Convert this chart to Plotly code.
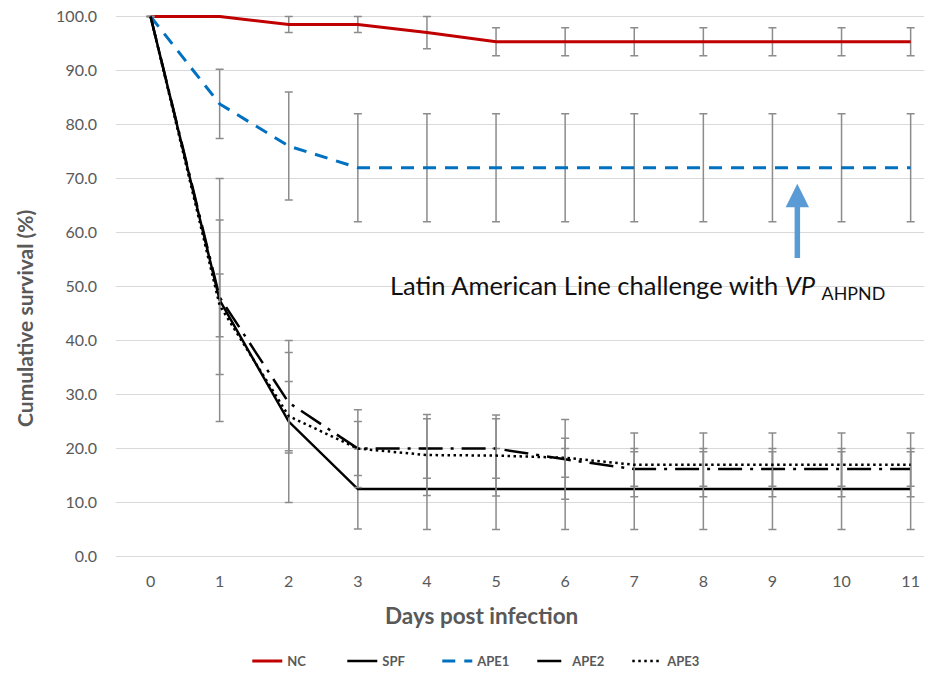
import plotly.graph_objects as go

days = list(range(12))

nc = [100, 100, 98.5, 98.5, 97.0, 95.3, 95.3, 95.3, 95.3, 95.3, 95.3, 95.3]
nc_err = [0, 0, 1.5, 1.5, 3.0, 2.6, 2.6, 2.6, 2.6, 2.6, 2.6, 2.6]

spf = [100, 47.5, 25.0, 12.5, 12.5, 12.5, 12.5, 12.5, 12.5, 12.5, 12.5, 12.5]
spf_err = [0, 22.5, 15.0, 7.4, 7.5, 7.5, 7.5, 7.5, 7.5, 7.5, 7.5, 7.5]

ape1 = [100, 83.8, 76.0, 72.0, 72.0, 72.0, 72.0, 72.0, 72.0, 72.0, 72.0, 72.0]
ape1_err = [0, 6.4, 10.0, 10.0, 10.0, 10.0, 10.0, 10.0, 10.0, 10.0, 10.0, 10.0]

ape2 = [100, 48.0, 28.5, 20.0, 20.0, 20.0, 18.0, 16.2, 16.2, 16.2, 16.2, 16.2]
ape2_err = [0, 14.3, 9.3, 7.2, 5.5, 5.5, 7.4, 3.2, 3.2, 3.2, 3.2, 3.2]

ape3 = [100, 46.5, 26.0, 20.0, 18.8, 18.7, 18.3, 17.0, 17.0, 17.0, 17.0, 17.0]
ape3_err = [0, 5.8, 6.4, 5.0, 7.5, 7.5, 3.6, 5.9, 5.9, 5.9, 5.9, 5.9]

y_ticks = [0, 10, 20, 30, 40, 50, 60, 70, 80, 90, 100]

ARROW_X = 9.36
ARROW_TIP_Y = 69.0
ARROW_TAIL_Y = 55.0
LABEL_X = 7.05
LABEL_Y = 49.9

FONT = "Lato"
GRAY_TXT = "#595959"
ERR_COLOR = "#8c8c8c"

series = [
    ("NC", nc, nc_err, dict(color="#C00000", width=3, dash="solid")),
    ("SPF", spf, spf_err, dict(color="#000000", width=2.5, dash="solid")),
    ("APE1", ape1, ape1_err, dict(color="#0070C0", width=3, dash="13px,9px")),
    ("APE2", ape2, ape2_err, dict(color="#000000", width=2.5, dash="24px,8px,3px,8px")),
    ("APE3", ape3, ape3_err, dict(color="#000000", width=2.5, dash="2.5px,3.5px")),
]

fig = go.Figure()
for name, vals, errs, line in series:
    fig.add_trace(go.Scatter(
        x=days, y=vals, name=name, mode="lines", line=line,
        error_y=dict(type="data", array=errs, visible=True,
                     color=ERR_COLOR, thickness=1.5, width=4),
    ))

fig.add_annotation(
    x=ARROW_X, y=ARROW_TIP_Y, ax=ARROW_X, ay=ARROW_TAIL_Y,
    xref="x", yref="y", axref="x", ayref="y",
    text="", showarrow=True, arrowhead=2, arrowsize=0.85,
    arrowwidth=5.5, arrowcolor="#5B9BD5",
)
fig.add_annotation(
    x=LABEL_X, y=LABEL_Y, xref="x", yref="y", showarrow=False,
    text="Latin American Line challenge with <i>VP</i> <sub>AHPND</sub>",
    font=dict(family=FONT, size=25.5, color="#111111"),
    xanchor="center", yanchor="middle",
)
# axis titles
fig.add_annotation(
    x=-0.1118, y=0.443, xref="paper", yref="paper", showarrow=False,
    text="<b>Cumulative survival (%)</b>", textangle=-90,
    font=dict(family=FONT, size=21, color=GRAY_TXT),
    xanchor="center", yanchor="middle",
)
fig.add_annotation(
    x=0.4496, y=-0.098, xref="paper", yref="paper", showarrow=False,
    text="<b>Days post infection</b>",
    font=dict(family=FONT, size=22.5, color=GRAY_TXT),
    xanchor="center", yanchor="middle",
)

fig.update_layout(
    width=924, height=669,
    paper_bgcolor="white", plot_bgcolor="white",
    margin=dict(l=108, r=2, t=3, b=115, autoexpand=False),
    font=dict(family=FONT, color=GRAY_TXT),
    showlegend=True,
    legend=dict(orientation="h", xref="container", x=0.516, xanchor="center",
                yref="container", y=0.024, yanchor="middle",
                entrywidth=50, entrywidthmode="pixels",
                font=dict(size=13, color=GRAY_TXT, family=FONT, weight="bold"),
                tracegroupgap=0),
)
fig.update_xaxes(
    range=[-0.5, 11.28], tickmode="array", tickvals=days,
    ticktext=[str(d) for d in days], showgrid=False, zeroline=False,
    showline=False, automargin=False, ticklabelstandoff=8,
    ticklabeloverflow="allow",
    tickfont=dict(size=16, color=GRAY_TXT),
)
fig.update_yaxes(
    range=[-1, 101], tickmode="array", tickvals=y_ticks,
    ticktext=[f"{v:.1f}" for v in y_ticks], showgrid=True, gridcolor="#d9d9d9",
    gridwidth=1, zeroline=False, showline=False, automargin=False,
    ticklabeloverflow="allow",
    tickfont=dict(size=16, color=GRAY_TXT), ticklabelstandoff=18,
)

fig.write_html("out.html")
